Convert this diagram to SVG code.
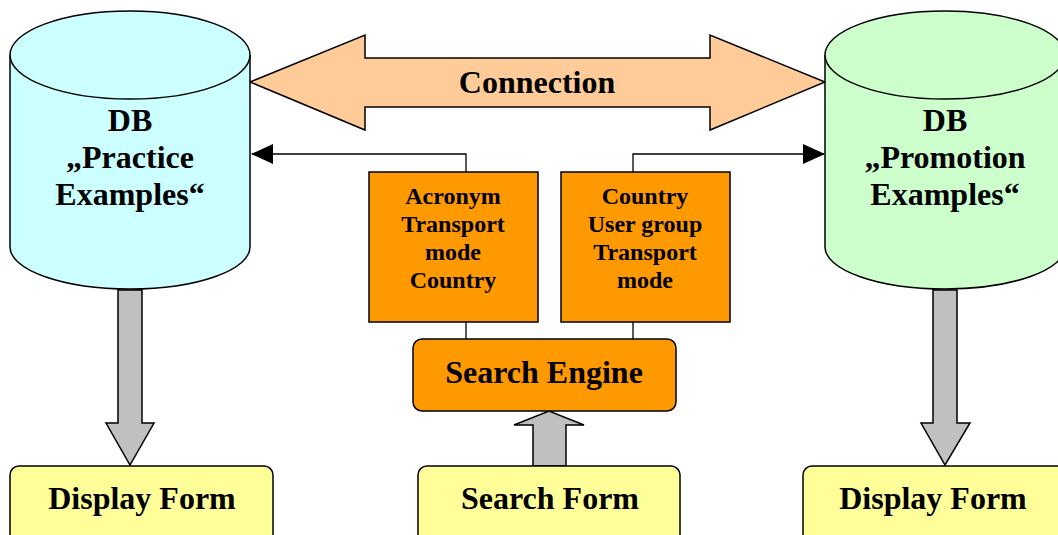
<svg xmlns="http://www.w3.org/2000/svg" width="1058" height="535" viewBox="0 0 1058 535">
<style>
text{font-family:"Liberation Serif","Times New Roman",serif;font-weight:bold;fill:#000;text-anchor:middle}
.big{font-size:32px}
.small{font-size:24px}
.thin{fill:none;stroke:#000;stroke-width:1.3}
.gray{fill:#C0C0C0;stroke:#000;stroke-width:1.5}
</style>
<defs>
<marker id="ah" viewBox="0 0 22 20" refX="21" refY="10" markerWidth="22" markerHeight="20" markerUnits="userSpaceOnUse" orient="auto">
<path d="M0,0 L22,10 L0,20 Z" fill="#000"/>
</marker>
</defs>
<rect width="1058" height="535" fill="#fff"/>

<g id="connectors">
<path class="thin" d="M466,172 V154 H252" marker-end="url(#ah)"/>
<path class="thin" d="M633,172 V154 H824" marker-end="url(#ah)"/>
<line class="thin" x1="466" y1="322" x2="466" y2="339"/>
<line class="thin" x1="633" y1="322" x2="633" y2="339"/>
<path class="gray" d="M118,290 H142 V423 H154 L130,465 L106,423 H118 Z"/>
<path class="gray" d="M933,290 H957 V423 H970 L945,465 L921,423 H933 Z"/>
<path class="gray" d="M533,466 V425 H514 L549,411 L584,425 H566 V466 Z"/>
</g>

<g id="connection">
<path d="M250,82 L365,35 V58 H710 V35 L825,82 L710,130 V107 H365 V130 Z" fill="#FFCC99" stroke="#000" stroke-width="1.5"/>
<text class="big" x="537" y="93">Connection</text>
</g>

<g id="db-practice">
<path d="M10,55 V247 A120,42 0 0 0 250,247 V55" fill="#CCFFFF" stroke="#000" stroke-width="1.5"/>
<ellipse cx="130" cy="55" rx="120" ry="44" fill="#CCFFFF" stroke="#000" stroke-width="1.5"/>
<text class="big" x="130" y="131">DB</text>
<text class="big" x="130" y="168">„Practice</text>
<text class="big" x="130" y="205">Examples“</text>
</g>

<g id="db-promotion">
<path d="M825,55 V247 A120,42 0 0 0 1065,247 V55" fill="#CCFFCC" stroke="#000" stroke-width="1.5"/>
<ellipse cx="945" cy="55" rx="120" ry="44" fill="#CCFFCC" stroke="#000" stroke-width="1.5"/>
<text class="big" x="945" y="131">DB</text>
<text class="big" x="945" y="168">„Promotion</text>
<text class="big" x="945" y="205">Examples“</text>
</g>

<g id="criteria-practice">
<rect x="369" y="172" width="169" height="150" fill="#FF9900" stroke="#000" stroke-width="1.5"/>
<text class="small" x="453" y="204">Acronym</text>
<text class="small" x="453" y="232">Transport</text>
<text class="small" x="453" y="260">mode</text>
<text class="small" x="453" y="288">Country</text>
</g>

<g id="criteria-promotion">
<rect x="561" y="172" width="169" height="150" fill="#FF9900" stroke="#000" stroke-width="1.5"/>
<text class="small" x="645" y="204">Country</text>
<text class="small" x="645" y="232">User group</text>
<text class="small" x="645" y="260">Transport</text>
<text class="small" x="645" y="288">mode</text>
</g>

<g id="search-engine">
<rect x="413" y="339" width="263" height="72" rx="9" fill="#FF9900" stroke="#000" stroke-width="1.5"/>
<text class="big" x="544" y="383">Search Engine</text>
</g>

<g id="display-form-left">
<rect x="10" y="466" width="263" height="80" rx="9" fill="#FFFF99" stroke="#000" stroke-width="1.5"/>
<text class="big" x="142" y="509">Display Form</text>
</g>

<g id="search-form">
<rect x="418" y="466" width="262" height="80" rx="9" fill="#FFFF99" stroke="#000" stroke-width="1.5"/>
<text class="big" x="550" y="509">Search Form</text>
</g>

<g id="display-form-right">
<rect x="803" y="466" width="263" height="80" rx="9" fill="#FFFF99" stroke="#000" stroke-width="1.5"/>
<text class="big" x="933" y="509">Display Form</text>
</g>
</svg>
